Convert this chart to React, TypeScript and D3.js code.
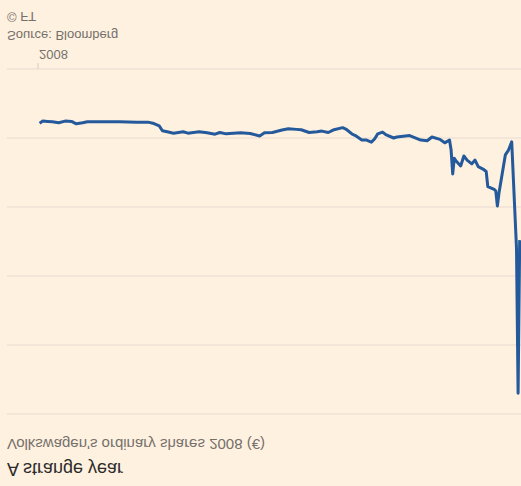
import { useEffect, useRef } from 'react';
import * as d3 from 'd3';

// Volkswagen ordinary shares, 2008 closing prices (€)
const dates = [
  "2008-01-02", "2008-01-04", "2008-01-07", "2008-01-10", "2008-01-14", "2008-01-18",
  "2008-01-22", "2008-01-25", "2008-01-29", "2008-02-01", "2008-02-11", "2008-02-21",
  "2008-03-03", "2008-03-10", "2008-03-13", "2008-03-17", "2008-03-19", "2008-03-22",
  "2008-03-26", "2008-04-01", "2008-04-04", "2008-04-11", "2008-04-16", "2008-04-21",
  "2008-04-24", "2008-04-28", "2008-05-07", "2008-05-13", "2008-05-19", "2008-05-22",
  "2008-05-27", "2008-06-02", "2008-06-06", "2008-06-11", "2008-06-14", "2008-06-19",
  "2008-06-24", "2008-06-27", "2008-07-01", "2008-07-04", "2008-07-10", "2008-07-12",
  "2008-07-16", "2008-07-18", "2008-07-22", "2008-07-25", "2008-07-28", "2008-07-30",
  "2008-08-01", "2008-08-04", "2008-08-06", "2008-08-11", "2008-08-13", "2008-08-21",
  "2008-08-28", "2008-09-01", "2008-09-04", "2008-09-09", "2008-09-12", "2008-09-15",
  "2008-09-16", "2008-09-17", "2008-09-18", "2008-09-19", "2008-09-22", "2008-09-24",
  "2008-09-26", "2008-09-29", "2008-10-01", "2008-10-03", "2008-10-06", "2008-10-08",
  "2008-10-09", "2008-10-13", "2008-10-14", "2008-10-15", "2008-10-16", "2008-10-20",
  "2008-10-22", "2008-10-24", "2008-10-27", "2008-10-28", "2008-10-29",
];

const prices = [
  157, 151, 152, 153, 156, 151,
  152, 159, 156, 153, 153, 153,
  154, 154, 157, 165, 179, 182,
  186, 182, 186, 182, 185, 189,
  184, 188, 185, 187, 194, 185,
  184, 177, 173, 175, 176, 184,
  182, 180, 184, 177, 170, 174,
  189, 193, 206, 206, 212, 203,
  188, 183, 190, 200, 197, 193,
  206, 208, 197, 204, 214, 206,
  235, 304, 259, 266, 281, 252,
  264, 275, 264, 283, 290, 297,
  341, 349, 353, 397, 360, 249,
  235, 211, 520, 940, 496,
];

const yTicks = [0, 200, 400, 600, 800, 1000];
const xTickLabel = "2008";

const title = "A strange year";
const subtitle = "Volkswagen's ordinary shares 2008 (€)";
const source = "Source: Bloomberg";
const credit = "© FT";

const W = 521;
const H = 486;

const App = () => {
  const svgRef = useRef<SVGSVGElement>(null);

  useEffect(() => {
    if (!svgRef.current) return;
    const root = d3.select(svgRef.current);
    root.selectAll("*").remove();

    root.append("rect").attr("width", W).attr("height", H).attr("fill", "#fff1e0");

    // the whole picture is mirrored top to bottom
    const g = root.append("g").attr("transform", `translate(0, ${H}) scale(1, -1)`);

    const font = "'Liberation Sans', Arial, sans-serif";

    const x = d3.scaleUtc()
      .domain([new Date(Date.UTC(2008, 0, 1)), new Date(Date.UTC(2008, 11, 31))])
      .range([38, 38 + 365 * 1.595]);

    const y = d3.scaleLinear().domain([0, 1000]).range([417, 72]);

    // grid
    g.selectAll(".grid")
      .data(yTicks)
      .enter()
      .append("line")
      .attr("x1", 7)
      .attr("x2", W)
      .attr("y1", d => y(d))
      .attr("y2", d => y(d))
      .attr("stroke", "#e8dccf")
      .attr("stroke-width", 1.2);

    // x tick
    const x0 = x(new Date(Date.UTC(2008, 0, 1)));
    g.append("line")
      .attr("x1", x0).attr("x2", x0)
      .attr("y1", y(0)).attr("y2", y(0) + 6)
      .attr("stroke", "#e0d3c6")
      .attr("stroke-width", 1.2);

    g.append("text")
      .attr("x", x0 + 1)
      .attr("y", 436)
      .style("font-family", font)
      .style("font-size", "13px")
      .style("fill", "#74706b")
      .text(xTickLabel);

    const data = dates.map((d, i) => ({ date: new Date(d + "T00:00:00Z"), value: prices[i] }));

    const line = d3.line<{ date: Date; value: number }>()
      .x(d => x(d.date))
      .y(d => y(d.value));

    g.append("path")
      .datum(data)
      .attr("d", line)
      .attr("fill", "none")
      .attr("stroke", "#24599b")
      .attr("stroke-width", 3)
      .attr("stroke-linejoin", "round");

    // texts
    g.append("text")
      .attr("x", 7).attr("y", 23)
      .style("font-family", font)
      .style("font-size", "18px")
      .style("fill", "#2b2b2b")
      .text(title);

    g.append("text")
      .attr("x", 7).attr("y", 47)
      .style("font-family", font)
      .style("font-size", "15px")
      .style("fill", "#74706b")
      .text(subtitle);

    g.append("text")
      .attr("x", 7).attr("y", 455)
      .style("font-family", font)
      .style("font-size", "13px")
      .style("fill", "#74706b")
      .text(source);

    g.append("text")
      .attr("x", 7).attr("y", 474)
      .style("font-family", font)
      .style("font-size", "13px")
      .style("fill", "#74706b")
      .text(credit);
  }, []);

  return (
    <div style={{ position: 'absolute', top: 0, left: 0 }}>
      <svg ref={svgRef} width={W} height={H} style={{ display: 'block' }}></svg>
    </div>
  );
};

export default App;
